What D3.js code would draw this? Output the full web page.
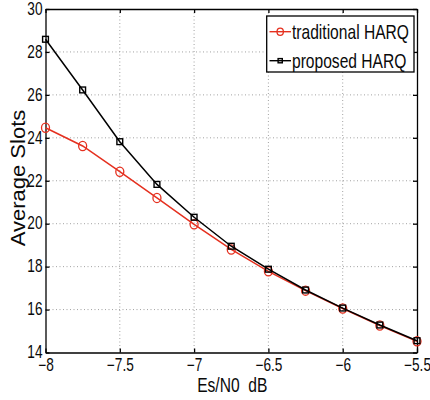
<!DOCTYPE html>
<html>
<head>
<meta charset="utf-8">
<script src="https://cdn.jsdelivr.net/npm/d3@7"></script>
<style>
  body { margin: 0; background: #fff; }
  text { font-family: "Liberation Sans", Arial, sans-serif; }
</style>
</head>
<body>
<script>
// data
const snr = [-8, -7.75, -7.5, -7.25, -7, -6.75, -6.5, -6.25, -6, -5.75, -5.5];
const traditional = [24.47, 23.62, 22.42, 21.2, 19.97, 18.8, 17.78, 16.88, 16.05, 15.26, 14.52];
const proposed = [28.59, 26.23, 23.82, 21.83, 20.3, 18.95, 17.88, 16.91, 16.07, 15.28, 14.55];
const xTicks = [-8, -7.5, -7, -6.5, -6, -5.5];
const yTicks = [14, 16, 18, 20, 22, 24, 26, 28, 30];
const seriesNames = ["traditional HARQ", "proposed HARQ"];

let width = 430;
let height = 400;
let marginTop = 9;
let marginRight = 13;
let marginBottom = 47.5;
let marginLeft = 45.5;
const sx = 0.78; // text squeezed sideways like the original

let x = d3.scaleLinear()
    .domain([-8, -5.5])
    .range([marginLeft, width - marginRight]);

let y = d3.scaleLinear()
    .domain([14, 30])
    .range([height - marginBottom, marginTop]);

let svg = d3.select("body").append("svg")
    .attr("width", width)
    .attr("height", height)
    .attr("viewBox", [0, 0, width, height]);

const fmt = d => d3.format("")(d).replace("-", "\u2212");

// dotted grid
svg.append("g")
    .selectAll("line")
    .data(xTicks.slice(1, -1))
    .join("line")
    .attr("x1", d => x(d)).attr("x2", d => x(d))
    .attr("y1", marginTop).attr("y2", height - marginBottom)
    .attr("stroke", "#8a8a8a")
    .attr("stroke-width", 0.8)
    .attr("stroke-dasharray", "1,2.5");

svg.append("g")
    .selectAll("line")
    .data(yTicks.slice(1, -1))
    .join("line")
    .attr("y1", d => y(d)).attr("y2", d => y(d))
    .attr("x1", marginLeft).attr("x2", width - marginRight)
    .attr("stroke", "#8a8a8a")
    .attr("stroke-width", 0.8)
    .attr("stroke-dasharray", "1,2.5");

// axes (ticks point inward, box on all sides)
const xAxis = d3.axisBottom(x).tickValues(xTicks).tickSize(-4).tickSizeOuter(0).tickPadding(6).tickFormat(fmt);
const yAxis = d3.axisLeft(y).tickValues(yTicks).tickSize(-4).tickSizeOuter(0).tickPadding(3).tickFormat(d => d);

svg.append("g")
    .attr("transform", `translate(0,${height - marginBottom})`)
    .call(xAxis)
    .call(g => g.selectAll("text")
        .attr("fill", "#0a0a0a")
        .style("font-size", "17.5px")
        .attr("transform", `scale(${sx},1)`));

svg.append("g")
    .attr("transform", `translate(${marginLeft},0)`)
    .call(yAxis)
    .call(g => g.selectAll("text")
        .attr("fill", "#0a0a0a")
        .style("font-size", "17.5px")
        .attr("x", -3 / sx)
        .attr("dy", "0.3em")
        .attr("transform", `scale(${sx},1)`));

svg.append("g")
    .attr("transform", `translate(0,${marginTop})`)
    .call(d3.axisTop(x).tickValues(xTicks).tickSize(-4).tickSizeOuter(0).tickFormat(""));

svg.append("g")
    .attr("transform", `translate(${width - marginRight},0)`)
    .call(d3.axisRight(y).tickValues(yTicks).tickSize(-4).tickSizeOuter(0).tickFormat(""));

svg.selectAll(".domain, .tick line")
    .attr("stroke", "#000")
    .attr("stroke-width", 1.3);

// axis labels
svg.append("text")
    .attr("transform", `translate(${(marginLeft + width - marginRight) / 2 + 1},391.5) scale(${sx},1)`)
    .attr("text-anchor", "middle")
    .attr("fill", "#0a0a0a")
    .style("font-size", "20px")
    .style("white-space", "pre")
    .text("Es/N0  dB");

svg.append("text")
    .attr("transform", "translate(24.5,178) rotate(-90) scale(1,0.92)")
    .attr("text-anchor", "middle")
    .attr("fill", "#0a0a0a")
    .style("font-size", "22px")
    .text("Average Slots");

// series
const series = [
    { name: seriesNames[0], values: traditional, color: "#e5301f", shape: "circle" },
    { name: seriesNames[1], values: proposed, color: "#000000", shape: "square" }
];

const line = d3.line()
    .x((d, i) => x(snr[i]))
    .y(d => y(d));

function marker(g, shape, color, cx, cy, big) {
    if (shape === "circle") {
        g.append("ellipse")
            .attr("cx", cx).attr("cy", cy)
            .attr("rx", big ? 4 : 3.2).attr("ry", big ? 4.6 : 3.6)
            .attr("fill", "none").attr("stroke", color).attr("stroke-width", 1.3);
    } else {
        const s = big ? 5.8 : 4.2;
        g.append("rect")
            .attr("x", cx - s / 2).attr("y", cy - s / 2)
            .attr("width", s).attr("height", s)
            .attr("fill", "none").attr("stroke", color).attr("stroke-width", 1.4);
    }
}

series.forEach(s => {
    svg.append("path")
        .datum(s.values)
        .attr("fill", "none")
        .attr("stroke", s.color)
        .attr("stroke-width", 1.5)
        .attr("d", line);
    const g = svg.append("g");
    s.values.forEach((v, i) => marker(g, s.shape, s.color, x(snr[i]), y(v), true));
});

// legend
const legend = svg.append("g");
legend.append("rect")
    .attr("x", 266.7).attr("y", 16)
    .attr("width", 147.3).attr("height", 56)
    .attr("fill", "#fff")
    .attr("stroke", "#000")
    .attr("stroke-width", 1.3);

series.forEach((s, i) => {
    const cy = 31.7 + i * 29;
    legend.append("line")
        .attr("x1", 269.5).attr("x2", 291)
        .attr("y1", cy).attr("y2", cy)
        .attr("stroke", s.color).attr("stroke-width", 1.4);
    marker(legend, s.shape, s.color, 280.2, cy, false);
    legend.append("text")
        .attr("transform", `translate(292,${cy + 7}) scale(${sx},1)`)
        .attr("fill", "#0a0a0a")
        .style("font-size", "20px")
        .text(s.name);
});
</script>
</body>
</html>
